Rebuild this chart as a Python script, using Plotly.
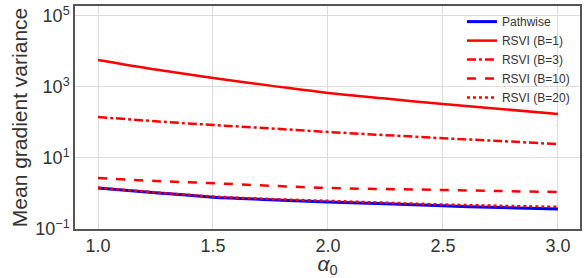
import plotly.graph_objects as go

alpha0 = [1.0, 1.25, 1.5, 1.75, 2.0, 2.25, 2.5, 2.75, 3.0]
pathwise = [1.43, 1.05, 0.79, 0.67, 0.575, 0.51, 0.45, 0.40, 0.366]
rsvi_b1 = [5750, 3100, 1780, 1090, 676, 470, 330, 240, 174]
rsvi_b3 = [143, 108, 85, 68, 54, 44, 36, 30, 24.5]
rsvi_b10 = [2.74, 2.25, 1.95, 1.65, 1.43, 1.33, 1.26, 1.17, 1.10]
rsvi_b20 = [1.45, 1.08, 0.82, 0.70, 0.62, 0.55, 0.49, 0.45, 0.42]

series = [
    ("Pathwise", pathwise, "#0000ff", "solid", 3),
    ("RSVI (B=1)", rsvi_b1, "#ff0000", "solid", 2.5),
    ("RSVI (B=3)", rsvi_b3, "#ff0000", "dashdot", 2.5),
    ("RSVI (B=10)", rsvi_b10, "#ff0000", "dash", 2.5),
    ("RSVI (B=20)", rsvi_b20, "#ff0000", "dot", 2.5),
]

ytickvals = [0.1, 10, 1000, 100000]
yticktext = ["10<sup>−1</sup>", "10<sup>1</sup>", "10<sup>3</sup>", "10<sup>5</sup>"]
xtickvals = [1.0, 1.5, 2.0, 2.5, 3.0]
xticktext = ["1.0", "1.5", "2.0", "2.5", "3.0"]

fig = go.Figure()
for name, ys, color, dash, w in series:
    fig.add_trace(go.Scatter(x=alpha0, y=ys, mode="lines", name=name,
                             line=dict(color=color, dash=dash, width=w, shape="spline")))

axis_common = dict(showline=True, mirror=True, linecolor="#555555", linewidth=1.5,
                   gridcolor="#dcdcdc", gridwidth=1, zeroline=False, ticks="",
                   automargin=False,
                   tickfont=dict(family="Liberation Sans, Arial", size=18, color="#333333"))

fig.update_layout(
    width=586, height=278,
    margin=dict(l=75, r=6, t=6, b=49),
    plot_bgcolor="white", paper_bgcolor="white",
    font=dict(family="Liberation Sans, Arial", color="#333333"),
    xaxis=dict(range=[0.9, 3.096], tickvals=xtickvals, ticktext=xticktext,
               title=dict(text="<i>α</i><sub>0</sub>", font=dict(size=21), standoff=0),
               **axis_common),
    yaxis=dict(type="log", range=[-1, 5.28], tickvals=ytickvals, ticktext=yticktext,
               title=dict(text="Mean gradient variance", font=dict(size=21), standoff=2),
               **axis_common),
    legend=dict(x=0.99, y=0.995, xanchor="right", yanchor="top",
                bgcolor="rgba(255,255,255,0)", borderwidth=0,
                font=dict(size=12, color="#333333"), tracegroupgap=0),
    showlegend=True,
)

fig.write_html("out.html", config={"displayModeBar": False},
               post_script="document.body.style.margin='0';")
